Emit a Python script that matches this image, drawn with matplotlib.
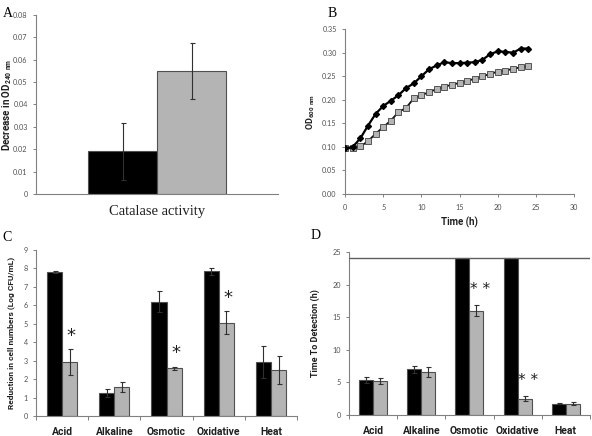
import matplotlib
matplotlib.use("Agg")
import matplotlib.pyplot as plt
import numpy as np
from matplotlib.ticker import FormatStrFormatter, FixedLocator

# ---------------- data ----------------
# Panel A
catalase_label = ["Catalase activity"]
catalase_black = [0.019]
catalase_black_err = [0.0127]
catalase_gray = [0.055]
catalase_gray_err = [0.0125]

# Panel B
time_h = list(range(0, 25))
od_black = [0.097, 0.100, 0.118, 0.145, 0.170, 0.187, 0.198, 0.210, 0.225, 0.235,
            0.250, 0.265, 0.273, 0.280, 0.278, 0.278, 0.279, 0.280, 0.285, 0.297,
            0.303, 0.302, 0.300, 0.309, 0.309]
od_gray = [0.097, 0.097, 0.101, 0.112, 0.128, 0.142, 0.156, 0.174, 0.183, 0.203,
           0.210, 0.216, 0.223, 0.228, 0.232, 0.236, 0.240, 0.245, 0.250, 0.255,
           0.260, 0.262, 0.266, 0.269, 0.272]

# Panel C
stress = ["Acid", "Alkaline", "Osmotic", "Oxidative", "Heat"]
red_black = [7.8, 1.27, 6.2, 7.85, 2.93]
red_black_err = [0.05, 0.22, 0.55, 0.2, 0.85]
red_gray = [2.91, 1.56, 2.59, 5.05, 2.5]
red_gray_err = [0.71, 0.28, 0.07, 0.62, 0.76]
red_star = ["*", "", "*", "*", ""]

# Panel D
ttd_black = [5.4, 7.0, 24.1, 24.1, 1.75]
ttd_black_err = [0.5, 0.55, 0.0, 0.0, 0.1]
ttd_gray = [5.2, 6.6, 16.0, 2.5, 1.75]
ttd_gray_err = [0.45, 0.7, 0.8, 0.4, 0.25]
ttd_star = ["", "", "* *", "* *", ""]
ttd_limit = 24.1

# ---------------- style ----------------
plt.rcParams['font.family'] = ['Lato', 'DejaVu Sans']
BOLDF = ['Roboto', 'DejaVu Sans']
BLACK = "#000000"
GRAY = "#b4b4b4"
EDGE = "#505050"
TICKC = "#505050"
SPINE = "#808080"
LABC = "#202020"

fig = plt.figure(figsize=(5.92, 4.36), dpi=100)

def style_axes(ax):
    for s in ["top", "right"]:
        ax.spines[s].set_visible(False)
    for s in ["left", "bottom"]:
        ax.spines[s].set_color(SPINE)
        ax.spines[s].set_linewidth(0.8)
    ax.tick_params(axis="both", which="both", colors=SPINE, labelcolor=TICKC,
                   labelsize=5.2, length=2.5, width=0.7, direction="out")

err_kw = dict(ecolor="#303030", elinewidth=0.8, capsize=1.8, capthick=0.8)

# ---------------- Panel A ----------------
axA = fig.add_axes([0.0608, 0.555, 0.409, 0.411])
style_axes(axA)
w = 0.285
xA = np.arange(len(catalase_label))
axA.bar(xA - w/2, catalase_black, w, color=BLACK, edgecolor=EDGE, linewidth=0.8,
        yerr=catalase_black_err, error_kw=err_kw, zorder=2)
axA.bar(xA + w/2, catalase_gray, w, color=GRAY, edgecolor=EDGE, linewidth=0.8,
        yerr=catalase_gray_err, error_kw=err_kw, zorder=2)
axA.set_xlim(-0.5, 0.5)
axA.set_ylim(0, 0.08)
axA.set_yticks(np.arange(0, 0.081, 0.01))
axA.set_yticklabels(["0"] + ["%.2f" % v for v in np.arange(0.01, 0.081, 0.01)])
axA.set_xticks(xA)
axA.set_xticklabels(catalase_label, fontsize=10.5, family="Liberation Serif",
                    color=LABC)
axA.tick_params(axis="x", length=0, pad=8)
axA.set_ylabel(r"Decrease in OD$_{\mathregular{240\ nm}}$", fontsize=7,
               fontweight="bold", color=LABC, family=BOLDF)
axA.yaxis.set_label_coords(-0.09, 0.5)
fig.text(0.004, 0.985, "A", fontsize=10, family="Liberation Serif", va="top")

# ---------------- Panel B ----------------
axB = fig.add_axes([0.5828, 0.555, 0.387, 0.378])
style_axes(axB)
axB.plot(time_h, od_gray, color="#101010", lw=1.3, marker="s", markersize=5,
         markerfacecolor=GRAY, markeredgecolor="#404040", markeredgewidth=0.6, zorder=2)
axB.plot(time_h, od_black, color="#000000", lw=1.6, marker="D", markersize=3,
         markerfacecolor="#000000", markeredgecolor="#000000", zorder=3)
axB.set_xlim(0, 30)
axB.set_ylim(0, 0.35)
axB.set_xticks(np.arange(0, 31, 5))
axB.set_yticks(np.arange(0, 0.351, 0.05))
axB.yaxis.set_major_formatter(FormatStrFormatter("%.2f"))
axB.tick_params(axis="x", pad=5)
axB.set_ylabel(r"OD$_{\mathregular{600\ nm}}$", fontsize=6.5, fontweight="bold",
               color=LABC, labelpad=4, family=BOLDF)
axB.set_xlabel("Time (h)", fontsize=7, fontweight="bold", color=LABC, labelpad=4,
               family=BOLDF)
fig.text(0.553, 0.985, "B", fontsize=10, family="Liberation Serif", va="top")

# ---------------- Panel C ----------------
def cat_axes(ax):
    n = len(stress)
    ax.set_xlim(-0.5, n - 0.5)
    ax.set_xticks(np.arange(n))
    ax.set_xticklabels(stress, fontsize=7.5, fontweight="bold", color=LABC,
                       family=BOLDF)
    ax.tick_params(axis="x", which="major", length=0, pad=8)
    ax.xaxis.set_minor_locator(FixedLocator(np.arange(-0.5, n, 1.0)))
    ax.tick_params(axis="x", which="minor", length=3, width=0.7, colors=SPINE)

axC = fig.add_axes([0.0608, 0.0459, 0.441, 0.3807])
style_axes(axC)
wc = 0.29
xC = np.arange(len(stress))
axC.bar(xC - wc/2, red_black, wc, color=BLACK, edgecolor=EDGE, linewidth=0.8,
        yerr=red_black_err, error_kw=err_kw, zorder=2)
axC.bar(xC + wc/2, red_gray, wc, color=GRAY, edgecolor=EDGE, linewidth=0.8,
        yerr=red_gray_err, error_kw=err_kw, zorder=2)
for i, s in enumerate(red_star):
    if s:
        axC.text(xC[i] + wc/2 + 0.03, red_gray[i] + red_gray_err[i] + 0.25, s,
                 ha="center", va="bottom", fontsize=13, color=LABC,
                 family="DejaVu Sans", zorder=5)
cat_axes(axC)
axC.set_ylim(0, 9)
axC.set_yticks(np.arange(0, 10, 1))
axC.set_ylabel("Reduction in cell numbers (Log CFU/mL)", fontsize=6,
               fontweight="bold", color=LABC, labelpad=6, family=BOLDF)
fig.text(0.004, 0.47, "C", fontsize=10, family="Liberation Serif", va="top")

# ---------------- Panel D ----------------
axD = fig.add_axes([0.5895, 0.0482, 0.407, 0.374])
style_axes(axD)
axD.bar(xC - wc/2, ttd_black, wc, color=BLACK, edgecolor=EDGE, linewidth=0.8,
        yerr=[e if e > 0 else np.nan for e in ttd_black_err], error_kw=err_kw, zorder=2)
axD.bar(xC + wc/2, ttd_gray, wc, color=GRAY, edgecolor=EDGE, linewidth=0.8,
        yerr=ttd_gray_err, error_kw=err_kw, zorder=2)
axD.axhline(ttd_limit, color="#606060", lw=1.0, zorder=3)
for i, s in enumerate(ttd_star):
    if s:
        axD.text(xC[i] + wc/2 + 0.08, ttd_gray[i] + ttd_gray_err[i] + 1.3, s,
                 ha="center", va="bottom", fontsize=11, color=LABC,
                 family="DejaVu Sans", zorder=5)
cat_axes(axD)
axD.set_ylim(0, 25)
axD.set_yticks(np.arange(0, 26, 5))
axD.set_ylabel("Time To Detection (h)", fontsize=6.5, fontweight="bold",
               color=LABC, labelpad=9, family=BOLDF)
fig.text(0.525, 0.475, "D", fontsize=10, family="Liberation Serif", va="top")

fig.savefig("out.png", dpi=100)
